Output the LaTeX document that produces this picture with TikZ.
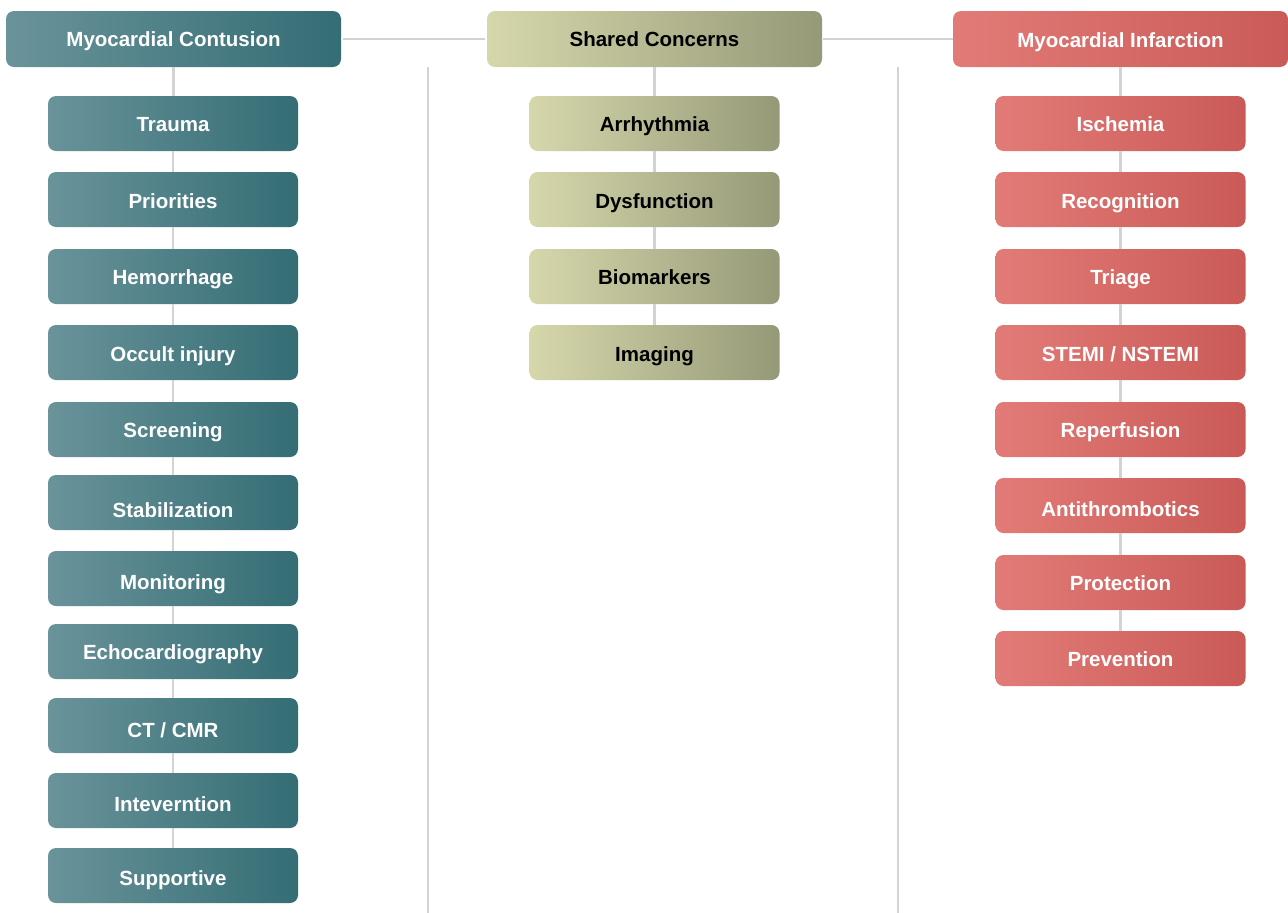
\documentclass[tikz,border=0pt]{standalone}
\usepackage{fontspec}
\setmainfont{Liberation Sans}
\begin{document}
\definecolor{tealL}{HTML}{6A939A}
\definecolor{tealR}{HTML}{346D74}
\definecolor{oliveL}{HTML}{D6D7AB}
\definecolor{oliveR}{HTML}{959977}
\definecolor{redL}{HTML}{E27B77}
\definecolor{redR}{HTML}{CA5A57}
\definecolor{linegray}{HTML}{D3D3D3}
\begin{tikzpicture}[x=1pt,y=-1pt,
  box/.style={rectangle, rounded corners=8pt, inner sep=0pt, align=center,
    font=\fontsize{20.5}{24}\selectfont\bfseries, text height=16pt, text depth=0.7pt},
  headbox/.style={box, minimum width=335pt, minimum height=56pt},
  childbox/.style={box, minimum width=250pt, minimum height=55pt},
  tealbox/.style={left color=tealL, right color=tealR, text=white},
  olivebox/.style={left color=oliveL, right color=oliveR, text=black},
  redbox/.style={left color=redL, right color=redR, text=white},
  conn/.style={draw=linegray, line width=2.8pt},
  sep/.style={draw=linegray, line width=2.8pt}]
\useasboundingbox (0,0) rectangle (1288,913);
\fill[white] (0,0) rectangle (1288,913);

% separators
\coordinate (s1t) at (428,67); \coordinate (s1b) at (428,913);
\coordinate (s2t) at (898,67); \coordinate (s2b) at (898,913);
\draw[sep] (s1t) -- (s1b);
\draw[sep] (s2t) -- (s2b);

% headers
\node[headbox, tealbox] (h1) at (173.5,39) {Myocardial Contusion};
\node[headbox, olivebox] (h2) at (654.5,39) {Shared Concerns};
\node[headbox, redbox] (h3) at (1120.5,39) {\raisebox{-1pt}{Myocardial Infarction}};

% column 1
\node[childbox, tealbox] (a1) at (173,123.5) {Trauma};
\node[childbox, tealbox] (a2) at (173,199.5) {\raisebox{-1pt}{Priorities}};
\node[childbox, tealbox] (a3) at (173,276.5) {Hemorrhage};
\node[childbox, tealbox] (a4) at (173,352.5) {\raisebox{-1pt}{Occult injury}};
\node[childbox, tealbox] (a5) at (173,429.5) {Screening};
\node[childbox, tealbox] (a6) at (173,502.5) {\raisebox{-7pt}{Stabilization}};
\node[childbox, tealbox] (a7) at (173,578.5) {\raisebox{-3pt}{Monitoring}};
\node[childbox, tealbox] (a8) at (173,651.5) {Echocardiography};
\node[childbox, tealbox] (a9) at (173,725.5) {\raisebox{-4pt}{CT / CMR}};
\node[childbox, tealbox] (a10) at (173,800.5) {\raisebox{-3pt}{Intevernti{}on}};
\node[childbox, tealbox] (a11) at (173,875.5) {\raisebox{-2pt}{Supportive}};

% column 2
\node[childbox, olivebox] (b1) at (654.5,123.5) {Arrhythmia};
\node[childbox, olivebox] (b2) at (654.5,199.5) {\raisebox{-1pt}{Dysfunction}};
\node[childbox, olivebox] (b3) at (654.5,276.5) {Biomarkers};
\node[childbox, olivebox] (b4) at (654.5,352.5) {\raisebox{-1pt}{Imaging}};

% column 3
\node[childbox, redbox] (c1) at (1120.5,123.5) {Ischemia};
\node[childbox, redbox] (c2) at (1120.5,199.5) {\raisebox{-1pt}{Recognition}};
\node[childbox, redbox] (c3) at (1120.5,276.5) {Triage};
\node[childbox, redbox] (c4) at (1120.5,352.5) {\raisebox{-1pt}{STEMI / NSTEMI}};
\node[childbox, redbox] (c5) at (1120.5,429.5) {Reperfusion};
\node[childbox, redbox] (c6) at (1120.5,505.5) {\raisebox{-3pt}{Antithrombotics}};
\node[childbox, redbox] (c7) at (1120.5,582.5) {Protection};
\node[childbox, redbox] (c8) at (1120.5,658.5) {Prevention};

% connectors
\draw[conn, shorten <=2pt, shorten >=2pt] (h1.east) -- (h2.west);
\draw[conn, shorten <=1pt] (h2.east) -- (h3.west);
\foreach \p/\c in {h1/a1,a1/a2,a2/a3,a3/a4,a4/a5,a5/a6,a6/a7,a7/a8,a8/a9,a9/a10,a10/a11,
                   h2/b1,b1/b2,b2/b3,b3/b4,
                   h3/c1,c1/c2,c2/c3,c3/c4,c4/c5,c5/c6,c6/c7,c7/c8}
  \draw[conn] (\c.north -| \p.south) -- (\p.south);
\end{tikzpicture}
\end{document}
